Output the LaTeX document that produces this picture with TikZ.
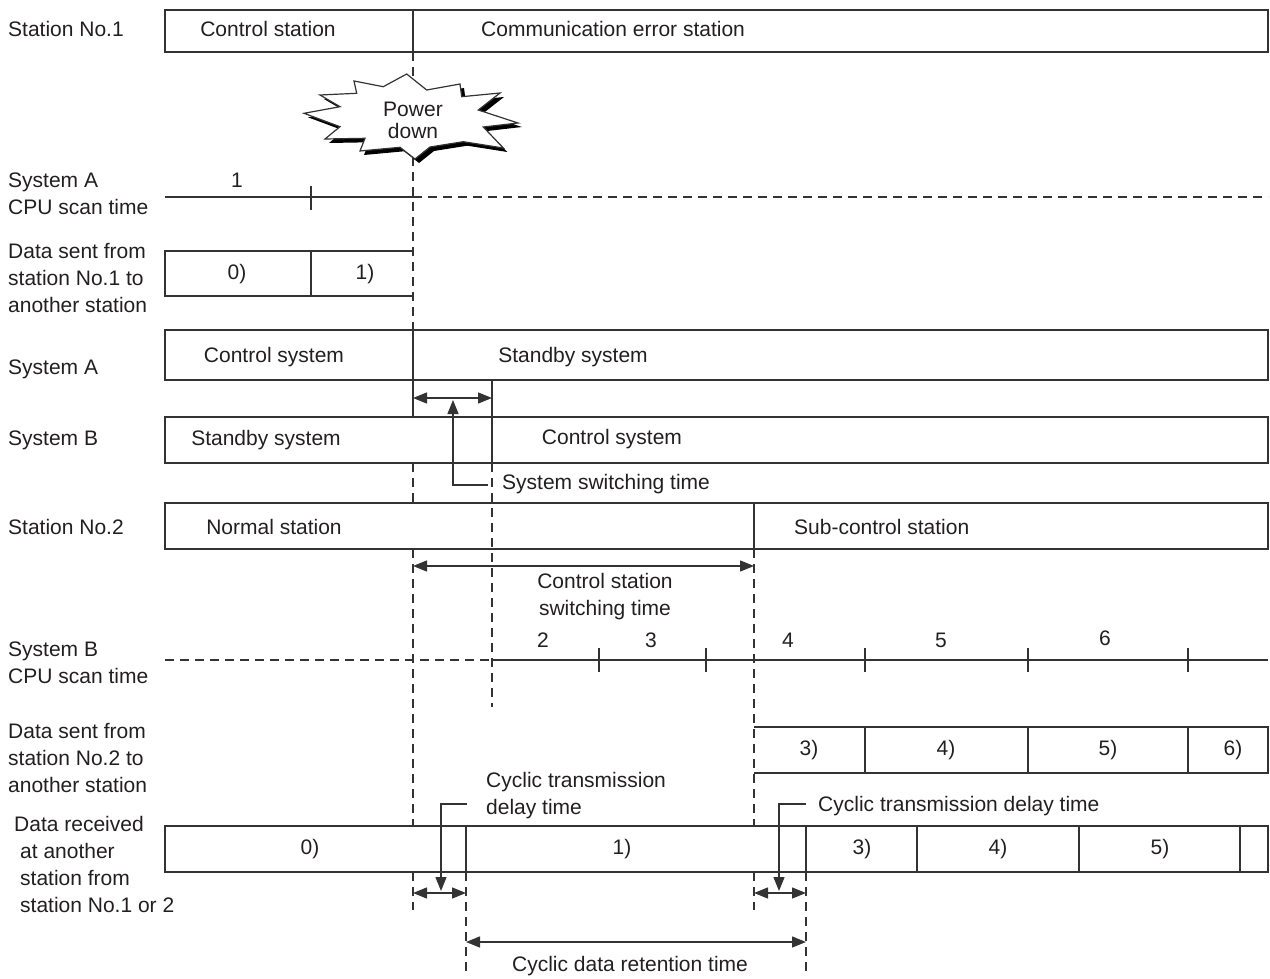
\documentclass[tikz,border=0pt]{standalone}
\usepackage{fontspec}
\setmainfont{Liberation Sans}
\usetikzlibrary{arrows.meta}
\definecolor{lc}{HTML}{333333}
\definecolor{txt}{HTML}{231F20}
\begin{document}
\begin{tikzpicture}[x=1pt,y=-1pt,
  every node/.style={inner sep=0pt, font=\fontsize{21}{27}\selectfont, text=txt},
  ln/.style={draw=lc, line width=1.4pt},
  dsh/.style={draw=lc, line width=1.4pt, dash pattern=on 9pt off 6pt},
  lbl/.style={anchor=west, align=left},
  tip/.tip={Triangle[length=14pt,width=11pt]},
  dbl/.style={draw=lc, fill=lc, line width=1.4pt, tip-tip},
  lead/.style={draw=lc, fill=none, line width=1.4pt, -tip},
]
\useasboundingbox (0,0) rectangle (1270,979);

% ---------- left labels ----------
\node[lbl] (l1) at (8,29) {Station No.1};
\node[lbl] (l2) at (8,194) {System A\\CPU scan time};
\node[lbl] (l3) at (8,278) {Data sent from\\station No.1 to\\another station};
\node[lbl] (l4) at (8,369) {System A};
\node[lbl] (l5) at (8,440) {System B};
\node[lbl] (l6) at (8,527) {Station No.2};
\node[lbl] (l7) at (8,663) {System B\\CPU scan time};
\node[lbl] (l8) at (8,758) {Data sent from\\station No.2 to\\another station};
\node[lbl] (l9) at (20,864) {\hspace*{-6pt}Data received\\at another\\station from\\station No.1 or 2};

% ---------- vertical time lines ----------
\draw[dsh] (413,52) -- (413,330);
\draw[ln]  (413,330) -- (413,417);
\draw[dsh] (413,463) -- (413,503);
\draw[dsh] (413,549) -- (413,826);
\draw[dsh] (413,872) -- (413,910);
\draw[ln]  (492,380) -- (492,463);
\draw[dsh] (492,463) -- (492,707);
\draw[ln]  (754,503) -- (754,549);
\draw[dsh] (754,549) -- (754,826);
\draw[dsh] (754,872) -- (754,910);
\draw[dsh] (466,872) -- (466,975);
\draw[dsh] (806,872) -- (806,975);

% ---------- Station No.1 ----------
\draw[ln] (165,10) rectangle (1268,52);
\draw[ln] (413,10) -- (413,52);
\node (t1) at (268,29) {Control station};
\node[anchor=west] (t2) at (481,29) {Communication error station};

% ---------- Power down burst ----------
\def\burst{(406.7,74) -- (426.7,90) -- (460,84) -- (461.7,96.7) -- (500,93) -- (478.3,110) -- (518,123) -- (483.3,127) -- (503.3,148) -- (463.3,141.7) -- (430,147) -- (415,159) -- (400,147.3) -- (360,151) -- (365,138.3) -- (325,139) -- (340,126.7) -- (304,113.3) -- (340,106.7) -- (320,95) -- (356.7,93.3) -- (354,81) -- (383.3,86.7) -- cycle}
\fill[black, shift={(4pt,-4pt)}] \burst;
\draw[lc, fill=white, line width=1.2pt] \burst;
\node[align=center, font=\fontsize{21}{22}\selectfont] (pd) at (413,120) {Power\\down};

% ---------- System A CPU scan time ----------
\draw[ln] (165,197) -- (413,197);
\draw[dsh] (413,197) -- (1268,197);
\draw[ln] (311,186) -- (311,210);
\node (s1) at (237,180) {1};

% ---------- Data sent from station No.1 ----------
\draw[ln] (413,251) -- (165,251) -- (165,296) -- (413,296);
\draw[ln] (311,251) -- (311,296);
\node (d0) at (237,274) {0)};
\node (d1) at (365,274) {1)};

% ---------- System A ----------
\draw[ln] (165,330) rectangle (1268,380);
\node (a1) at (274,357) {Control system};
\node (a2) at (573,357) {Standby system};

% system switching time
\coordinate (sw1) at (413,398);
\coordinate (sw2) at (492,398);
\draw[dbl] (sw1) -- (sw2);

% ---------- System B ----------
\draw[ln] (165,417) rectangle (1268,463);
\node (b1) at (266,440) {Standby system};
\node (b2) at (612,439) {Control system};

\node[anchor=west] (swt) at (502,484) {System switching time};
\coordinate (swl) at (453,485);
\coordinate (swt0) at (488,485);
\coordinate (swa) at (453,400);
\draw[lead] (swt0) -- (swl) -- (swa);

% ---------- Station No.2 ----------
\draw[ln] (165,503) rectangle (1268,549);
\node (n1) at (274,527) {Normal station};
\node[anchor=west] (n2) at (794,527) {Sub-control station};

\coordinate (cs1) at (413,566);
\coordinate (cs2) at (754,566);
\draw[dbl] (cs1) -- (cs2);
\node[align=center] (cst) at (605,597) {Control station\\switching time};

% ---------- System B CPU scan time ----------
\draw[dsh] (165,660) -- (492,660);
\draw[ln] (492,660) -- (1268,660);
\foreach \x in {599,706,865,1028,1188} \draw[ln] (\x,648) -- (\x,672);
\node (c2) at (543,640) {2};
\node (c3) at (651,640) {3};
\node (c4) at (788,640) {4};
\node (c5) at (941,640) {5};
\node (c6) at (1105,638) {6};

% ---------- Data sent from station No.2 ----------
\draw[ln] (754,727) -- (1268,727) -- (1268,773) -- (754,773);
\foreach \x in {865,1028,1188} \draw[ln] (\x,727) -- (\x,773);
\node (e3) at (809,750) {3)};
\node (e4) at (946,750) {4)};
\node (e5) at (1108,750) {5)};
\node (e6) at (1233,750) {6)};

% ---------- Data received ----------
\draw[ln] (165,826) rectangle (1268,872);
\foreach \x in {466,806,917,1079,1240} \draw[ln] (\x,826) -- (\x,872);
\node (r0) at (310,849) {0)};
\node (r1) at (622,849) {1)};
\node (r3) at (862,849) {3)};
\node (r4) at (998,849) {4)};
\node (r5) at (1160,849) {5)};

% cyclic transmission delay time
\node[lbl] (ct1) at (486,796) {Cyclic transmission\\delay time};
\node[anchor=west] (ct2) at (818,806) {Cyclic transmission delay time};
\coordinate (dl1) at (413,893);
\coordinate (dl2) at (466,893);
\coordinate (dl3) at (754,893);
\coordinate (dl4) at (806,893);
\draw[dbl] (dl1) -- (dl2);
\draw[dbl] (dl3) -- (dl4);
\coordinate (ld1a) at (467,804);
\coordinate (ld1b) at (441,804);
\coordinate (ld1c) at (441,891);
\draw[lead] (ld1a) -- (ld1b) -- (ld1c);
\coordinate (ld2a) at (806,804);
\coordinate (ld2b) at (779,804);
\coordinate (ld2c) at (779,891);
\draw[lead] (ld2a) -- (ld2b) -- (ld2c);

% cyclic data retention time
\coordinate (rt1) at (466,942);
\coordinate (rt2) at (806,942);
\draw[dbl] (rt1) -- (rt2);
\node (rtt) at (630,966) {Cyclic data retention time};
\end{tikzpicture}
\end{document}
